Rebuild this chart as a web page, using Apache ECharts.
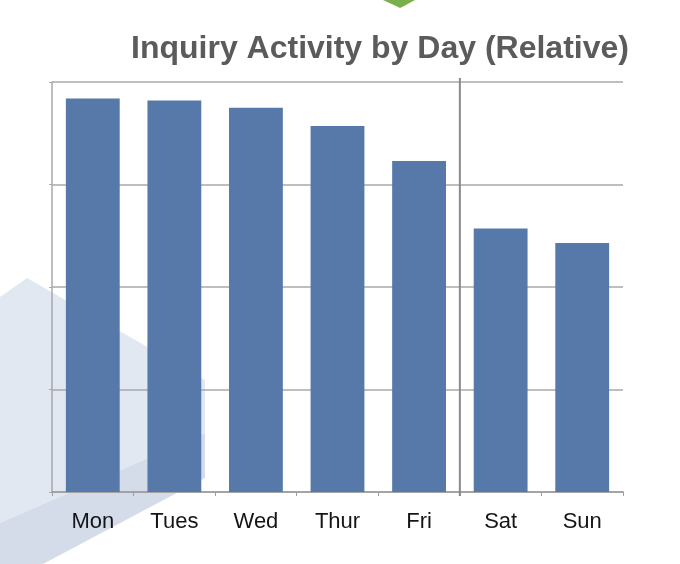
<!DOCTYPE html>
<html>
<head>
<meta charset="utf-8">
<script src="https://cdn.jsdelivr.net/npm/echarts@6/dist/echarts.min.js"></script>
<style>
html, body { margin: 0; padding: 0; background: #fff; }
#chart { width: 680px; height: 564px; }
</style>
</head>
<body>
<div id="chart"></div>
<script>
// data
var days = ['Mon', 'Tues', 'Wed', 'Thur', 'Fri', 'Sat', 'Sun'];
var activity = [3.84, 3.82, 3.75, 3.57, 3.23, 2.57, 2.43];
var yTicks = [0, 1, 2, 3, 4];

var myChart = echarts.init(document.getElementById('chart'));

var option = {
  backgroundColor: '#fff',
  animation: false,
  title: {
    text: 'Inquiry Activity by Day (Relative)',
    left: 126,
    top: 28,
    textStyle: {
      fontFamily: 'Liberation Sans',
      fontWeight: 'bold',
      fontSize: 32,
      color: '#5b5b5b'
    }
  },
  grid: { left: 52, right: 57, top: 82, bottom: 72 },
  xAxis: {
    type: 'category',
    data: days,
    axisLine: { lineStyle: { color: '#9c9c9c', width: 1.5 } },
    axisTick: { show: true, length: 4, lineStyle: { color: '#9c9c9c' } },
    axisLabel: {
      margin: 19,
      fontFamily: 'Liberation Sans',
      fontSize: 22,
      color: '#151515'
    }
  },
  yAxis: {
    type: 'value',
    min: yTicks[0],
    max: yTicks[yTicks.length - 1],
    interval: 1,
    axisLabel: { show: false },
    axisLine: { show: true, lineStyle: { color: '#a8a8a8', width: 1.5 } },
    axisTick: { show: true, length: 3, lineStyle: { color: '#a8a8a8' } },
    splitLine: { show: true, lineStyle: { color: '#a8a8a8', width: 1.5 } }
  },
  graphic: [
    // pale backdrop shapes behind the plot
    {
      type: 'polygon', z: -10, silent: true,
      shape: { points: [[0, 297], [27, 278], [205, 380], [205, 433], [0, 523]] },
      style: { fill: '#e1e8f2' }
    },
    {
      type: 'polygon', z: -10, silent: true,
      shape: { points: [[0, 523], [205, 433], [205, 478], [43, 564], [0, 564]] },
      style: { fill: '#d5dce9' }
    },
    // green tip at the top
    {
      type: 'polygon', z: -10, silent: true,
      shape: { points: [[383, 0], [415, 0], [404, 6], [400, 8], [396, 6]] },
      style: { fill: '#79b04c' }
    }
  ],
  series: [
    {
      type: 'bar',
      data: activity,
      barWidth: '66%',
      itemStyle: { color: '#5679a9' }
    }
  ]
};

myChart.setOption(option);

// weekday / weekend separator, placed from the axis scales
var xFri = myChart.convertToPixel({ xAxisIndex: 0 }, 'Fri');
var xSat = myChart.convertToPixel({ xAxisIndex: 0 }, 'Sat');
var xSep = (xFri + xSat) / 2;
var yTop = myChart.convertToPixel({ yAxisIndex: 0 }, yTicks[yTicks.length - 1]);
var yBot = myChart.convertToPixel({ yAxisIndex: 0 }, yTicks[0]);

option.graphic.push({
  type: 'line', z: 10, silent: true,
  shape: { x1: xSep, y1: yTop - 4, x2: xSep, y2: yBot + 4 },
  style: { stroke: '#8a8a8a', lineWidth: 2 }
});
myChart.setOption({ graphic: option.graphic });
</script>
</body>
</html>
